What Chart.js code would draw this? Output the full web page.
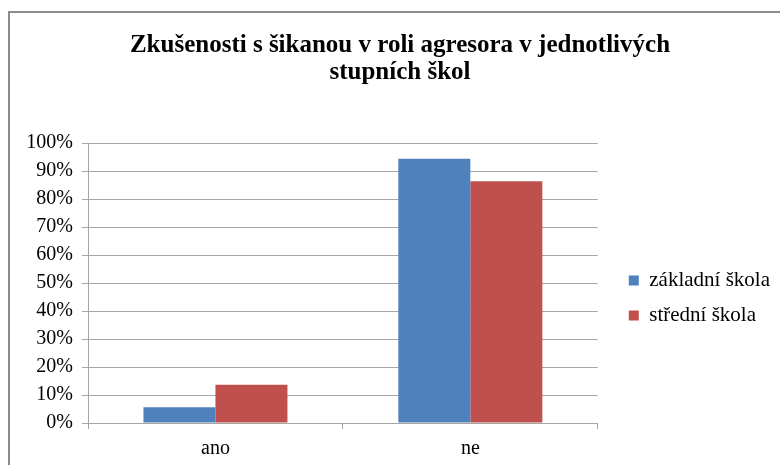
<!DOCTYPE html>
<html>
<head>
<meta charset="utf-8">
<script src="https://cdn.jsdelivr.net/npm/chart.js@4"></script>
<style>
    body { margin: 0; background: #fff; }
    #ramecek {
        position: absolute; left: 8px; top: 11px; width: 800px; height: 480px;
        border-left: 2px solid #8c8c8c; border-top: 2px solid #8c8c8c;
    }
    #graf { position: absolute; left: 0; top: 0; }
</style>
</head>
<body>
<div id="ramecek"></div>
<canvas id="graf" width="780" height="465"></canvas>
<script>
//--------Data
const kategorie = ["ano", "ne"]
const zakladniSkola = [5.6, 94.4]
const stredniSkola = [13.7, 86.3]
const nazvySerii = ["základní škola", "střední škola"]
const titulek = ["Zkušenosti s šikanou v roli agresora v jednotlivých", "stupních škol"]

const pismo = "'Liberation Serif', 'Times New Roman', serif"
const sedaMrizka = "#a6a6a6"

//--------Graf
const graf = new Chart(document.getElementById("graf"), {
    type: "bar",
    data: {
        labels: kategorie,
        datasets: [{
            label: nazvySerii[0],
            data: zakladniSkola,
            backgroundColor: "#4f81bd",
            yAxisID: "y"
        }, {
            label: nazvySerii[1],
            data: stredniSkola,
            backgroundColor: "#c0504d",
            yAxisID: "y"
        }]
    },
    options: {
        responsive: false,
        animation: false,
        devicePixelRatio: 1,
        datasets: { bar: { categoryPercentage: 0.565, barPercentage: 1 } },
        layout: { padding: { left: 20, right: 0, top: 0, bottom: 0 } },
        plugins: {
            title: {
                display: true,
                text: titulek,
                color: "#000",
                font: { family: pismo, size: 25, weight: "bold", lineHeight: 1.08 },
                padding: { top: 32, bottom: 57 }
            },
            legend: {
                position: "right",
                fullSize: false,
                maxWidth: 200,
                // prazdny titulek jen posune polozky legendy nize
                title: { display: true, text: "", font: { size: 10, lineHeight: 1.2 }, padding: { top: 0, bottom: 18 } },
                labels: {
                    color: "#000",
                    font: { family: pismo, size: 21 },
                    boxWidth: 10,
                    boxHeight: 10,
                    padding: 14
                }
            },
            tooltip: { enabled: false }
        },
        scales: {
            x: {
                grid: { display: true, drawOnChartArea: false, color: sedaMrizka, tickLength: 6 },
                border: { color: sedaMrizka },
                ticks: { color: "#000", font: { family: pismo, size: 20 }, padding: 8 },
                afterFit: s => { s.height = 42 }
            },
            y: {
                min: 0,
                max: 100,
                grid: { color: sedaMrizka, tickLength: 6 },
                border: { color: sedaMrizka },
                ticks: {
                    stepSize: 10,
                    color: "#000",
                    padding: 9,
                    font: { family: pismo, size: 20 },
                    callback: v => v + "%"
                },
                afterFit: s => { s.width = 68 }
            },
            y2: {
                // prazdna osa jen jako mezera mezi grafem a legendou
                position: "right",
                grid: { display: false },
                border: { display: false },
                ticks: { display: false },
                afterFit: s => { s.width = 17 }
            }
        }
    }
})
</script>
</body>
</html>
